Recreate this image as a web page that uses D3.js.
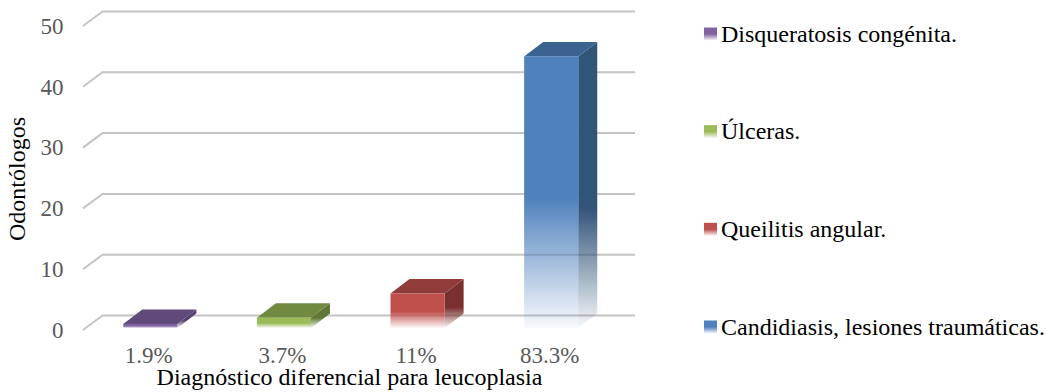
<!DOCTYPE html>
<html lang="es">
<head>
<meta charset="utf-8">
<title>Diagnóstico diferencial para leucoplasia</title>
<script src="https://cdn.jsdelivr.net/npm/d3@7"></script>
<style>
  html, body { margin: 0; padding: 0; background: #fff; }
  svg { display: block; }
  text { font-family: "Liberation Serif", "Times New Roman", serif; }
</style>
</head>
<body>
<svg id="chart" width="1047" height="392"></svg>
<script>
// Chart values
const percentLabels = ["1.9%", "3.7%", "11%", "83.3%"];
const counts = [1, 2, 6, 45];
const legendNames = [
  "Candidiasis, lesiones traumáticas.",
  "Queilitis angular.",
  "Úlceras.",
  "Disqueratosis congénita."
];
const yTicks = [0, 10, 20, 30, 40, 50];
const frontColors = ["#8064A2", "#9BBB59", "#C0504D", "#4F81BD"];
const topColors = ["#5F4A7A", "#708A42", "#8F3C3A", "#3B6290"];
const sideColors = ["#54406C", "#5F7736", "#7A302F", "#315479"];

const svg = d3.select("#chart");

// Oblique depth of the 3D floor and walls
const depthX = 19, depthY = -14.5;

const x = d3.scaleBand().domain(percentLabels).range([83.5, 618]).paddingInner(0.595).paddingOuter(0.2975);
const y = d3.scaleLinear().domain([0, 50]).range([330, 26]);

// Vertical fades used by bars and legend keys
const defs = svg.append("defs");
function fade(id, color, solidUntil) {
  const g = defs.append("linearGradient").attr("id", id)
    .attr("x1", 0).attr("y1", 0).attr("x2", 0).attr("y2", 1);
  g.append("stop").attr("offset", 0).attr("stop-color", color);
  g.append("stop").attr("offset", solidUntil).attr("stop-color", color);
  g.append("stop").attr("offset", 1).attr("stop-color", color).attr("stop-opacity", 0.04);
}
percentLabels.forEach((_, i) => {
  fade("front" + i, frontColors[i], 0.52);
  fade("side" + i, sideColors[i], 0.58);
  fade("key" + i, frontColors[i], 0.5);
});

// Gridlines bent along the side wall
svg.append("g").selectAll("path").data(yTicks).join("path")
  .attr("d", d => `M${x.range()[0] - 0.5},${y(d)}L${x.range()[0] + depthX},${y(d) + depthY}L635,${y(d) + depthY}`)
  .attr("fill", "none").attr("stroke", "#c4c4c4").attr("stroke-width", 2);

// Value axis
const yAxis = svg.append("g").attr("transform", "translate(63.5,0)")
  .call(d3.axisLeft(y).tickValues(yTicks).tickSize(0).tickPadding(0));
yAxis.select(".domain").remove();
yAxis.selectAll("text").attr("font-size", 23).attr("fill", "#595959")
  .style("font-family", '"Liberation Serif", serif');

// Category axis
const xAxis = svg.append("g").attr("transform", "translate(-1.5,347)")
  .call(d3.axisBottom(x).tickSize(0).tickPadding(0));
xAxis.select(".domain").remove();
xAxis.selectAll("text").attr("font-size", 23).attr("fill", "#595959")
  .style("font-family", '"Liberation Serif", serif');

// Bars: side face, top face and front face
const bars = svg.append("g").selectAll("g").data(counts).join("g");
const left = (d, i) => x(percentLabels[i]);
const right = (d, i) => left(d, i) + x.bandwidth();
bars.append("path")
  .attr("d", (d, i) => `M${right(d, i)},${y(d)}l${depthX},${depthY}V${y(0) - 2 + depthY}l${-depthX},${-depthY}Z`)
  .attr("fill", (d, i) => `url(#side${i})`);
bars.append("path")
  .attr("d", (d, i) => `M${left(d, i)},${y(d)}l${depthX},${depthY}H${right(d, i) + depthX}l${-depthX},${-depthY}Z`)
  .attr("fill", (d, i) => topColors[i]);
bars.append("rect")
  .attr("x", left).attr("y", d => y(d))
  .attr("width", x.bandwidth()).attr("height", d => y(0) - 2 - y(d))
  .attr("fill", (d, i) => `url(#front${i})`);

// Axis titles
svg.append("text").attr("x", 349.5).attr("y", 385).attr("text-anchor", "middle")
  .attr("font-size", 24).attr("fill", "#000").text("Diagnóstico diferencial para leucoplasia");
svg.append("text").attr("transform", "translate(25,179) rotate(-90)").attr("text-anchor", "middle")
  .attr("font-size", 24).attr("fill", "#000").text("Odontólogos");

// Legend, with the last series on top
const legendY = d3.scalePoint().domain(legendNames).range([327, 34]);
const legend = svg.append("g").selectAll("g").data(legendNames).join("g")
  .attr("transform", d => `translate(704,${legendY(d)})`);
legend.append("rect").attr("x", 0).attr("y", -6.5).attr("width", 13).attr("height", 13)
  .attr("fill", (d, i) => `url(#key${3 - i})`);
legend.append("text").attr("x", 17).attr("y", 7.5).attr("font-size", 24).attr("fill", "#000").text(d => d);
</script>
</body>
</html>
